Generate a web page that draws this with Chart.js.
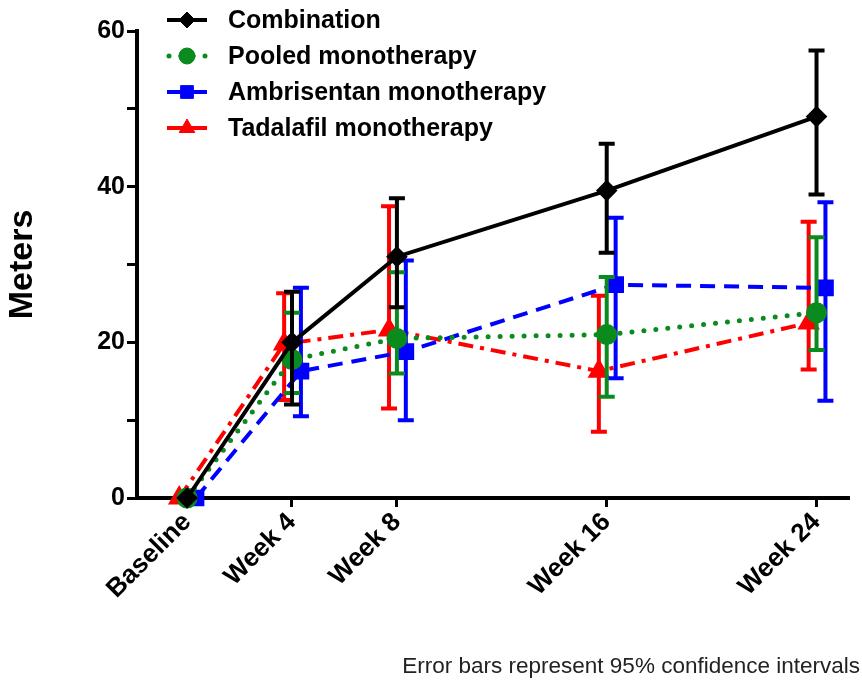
<!DOCTYPE html>
<html>
<head>
<meta charset="utf-8">
<script src="https://cdn.jsdelivr.net/npm/chart.js@4.4.1/dist/chart.umd.min.js"></script>
<style>
  html, body { margin: 0; padding: 0; background: #fff; }
</style>
</head>
<body>
<canvas id="walkChart" width="862" height="681"></canvas>
<script>
// ---- Data (change from baseline, meters) ----
const weeks      = [0, 4, 8, 16, 24];
const weekLabels = ['Baseline', 'Week 4', 'Week 8', 'Week 16', 'Week 24'];

const combination     = [0, 20, 31, 39.5, 49];
const combinationLow  = [0, 12, 24.5, 31.5, 39];
const combinationHigh = [0, 26.5, 38.5, 45.5, 57.5];

const pooled     = [0, 17.8, 20.5, 21, 23.8];
const pooledLow  = [0, 13.5, 16, 13, 19];
const pooledHigh = [0, 23.8, 29, 28.4, 33.5];

const ambrisentan     = [0, 16.3, 18.8, 27.4, 27];
const ambrisentanLow  = [0, 10.5, 10, 15.4, 12.5];
const ambrisentanHigh = [0, 27, 30.5, 36, 38];

const tadalafil     = [0, 19.8, 21.6, 16.3, 22.5];
const tadalafilLow  = [0, 12.6, 11.5, 8.5, 16.5];
const tadalafilHigh = [0, 26.3, 37.5, 26, 35.5];

const yTicks = [0, 20, 40, 60];

const FONT = "'Liberation Sans', Arial, Helvetica, sans-serif";

// points, nudged sideways a little so the error bars don't sit on top of each other
const pts = (vals, shift) => weeks.map((w, i) => ({ x: w + shift, y: vals[i] }));

// ---- Error bars: drawn just before each dataset so the symbols sit on top ----
const errorBars = {
  id: 'errorBars',
  beforeDatasetDraw(chart, args) {
    const ds = chart.data.datasets[args.index];
    if (!ds.errLow) return;
    const ctx = chart.ctx;
    const y = chart.scales.y;
    ctx.save();
    ctx.strokeStyle = ds.borderColor;
    ctx.lineWidth = 4;
    ctx.setLineDash([]);
    args.meta.data.forEach((pt, i) => {
      const lo = ds.errLow[i], hi = ds.errHigh[i];
      if (lo === hi) return;
      const yl = y.getPixelForValue(lo), yh = y.getPixelForValue(hi);
      ctx.beginPath();
      ctx.moveTo(pt.x, yl); ctx.lineTo(pt.x, yh);
      ctx.moveTo(pt.x - 8, yl); ctx.lineTo(pt.x + 8, yl);
      ctx.moveTo(pt.x - 8, yh); ctx.lineTo(pt.x + 8, yh);
      ctx.stroke();
    });
    ctx.restore();
  }
};

// ---- Legend (line sample + symbol) and footnote ----
const legendAndNote = {
  id: 'legendAndNote',
  afterDraw(chart) {
    const ctx = chart.ctx;
    ctx.save();
    const rows = [20, 56, 92, 128];
    chart.data.datasets.forEach((ds, i) => {
      const cy = rows[i];
      ctx.strokeStyle = ds.borderColor;
      ctx.lineWidth = ds.borderWidth;
      ctx.lineCap = ds.borderCapStyle || 'butt';
      ctx.setLineDash(ds.legendDash || []);
      ctx.beginPath();
      ctx.moveTo(ds.legendFrom || 167, cy);
      ctx.lineTo(207, cy);
      ctx.stroke();
      ctx.setLineDash([]);
      ctx.fillStyle = ds.pointBackgroundColor;
      ctx.strokeStyle = ds.pointBackgroundColor;
      ctx.lineWidth = 1;
      Chart.helpers.drawPoint(ctx, {
        pointStyle: ds.pointStyle, radius: ds.pointRadius, borderWidth: 1, rotation: 0
      }, 187, cy);
      ctx.fillStyle = '#000';
      ctx.font = `bold 25px ${FONT}`;
      ctx.textAlign = 'left';
      ctx.textBaseline = 'middle';
      ctx.fillText(ds.label, 228, cy + 1);
    });
    ctx.font = `22.5px ${FONT}`;
    ctx.fillStyle = '#222';
    ctx.textAlign = 'right';
    ctx.textBaseline = 'middle';
    ctx.fillText('Error bars represent 95% confidence intervals', 860, 667);
    ctx.restore();
  }
};

new Chart(document.getElementById('walkChart'), {
  type: 'line',
  data: {
    datasets: [
      {
        label: 'Combination', data: pts(combination, 0),
        errLow: combinationLow, errHigh: combinationHigh,
        borderColor: '#000', borderWidth: 4,
        pointStyle: 'rectRot', pointRadius: 8, pointBackgroundColor: '#000', pointBorderColor: '#000'
      },
      {
        label: 'Pooled monotherapy', data: pts(pooled, 0),
        errLow: pooledLow, errHigh: pooledHigh,
        borderColor: '#0b8a1e', borderWidth: 5, borderDash: [0, 12], borderCapStyle: 'round',
        legendDash: [0, 12], legendFrom: 169,
        pointStyle: 'circle', pointRadius: 8, pointBackgroundColor: '#0b8a1e', pointBorderColor: '#0b8a1e'
      },
      {
        label: 'Ambrisentan monotherapy', data: pts(ambrisentan, 0.34),
        errLow: ambrisentanLow, errHigh: ambrisentanHigh,
        borderColor: '#0000ff', borderWidth: 4, borderDash: [15, 9],
        pointStyle: 'rect', pointRadius: 9, pointBackgroundColor: '#0000ff', pointBorderColor: '#0000ff'
      },
      {
        label: 'Tadalafil monotherapy', data: pts(tadalafil, -0.3),
        errLow: tadalafilLow, errHigh: tadalafilHigh,
        borderColor: '#ff0000', borderWidth: 4, borderDash: [15, 7, 4, 7],
        pointStyle: 'triangle', pointRadius: 9, pointBackgroundColor: '#ff0000', pointBorderColor: '#ff0000'
      }
    ]
  },
  options: {
    responsive: false,
    animation: false,
    clip: false,
    elements: { line: { tension: 0, fill: false }, point: { borderWidth: 1 } },
    layout: { padding: { top: 31, right: 14, left: 0, bottom: 0 } },
    plugins: { legend: { display: false }, tooltip: { enabled: false } },
    scales: {
      x: {
        type: 'linear', min: -1.91, max: 25.2,
        afterBuildTicks: s => { s.ticks = weeks.map(v => ({ value: v })); },
        afterFit: s => { s.height = 183; },
        border: { color: '#000', width: 4 },
        grid: { drawOnChartArea: false, color: '#000', lineWidth: 3, tickLength: 9 },
        ticks: {
          color: '#000', font: { family: FONT, size: 26, weight: 'bold' },
          minRotation: 45, maxRotation: 45, padding: 0,
          callback: v => weekLabels[weeks.indexOf(v)]
        }
      },
      y: {
        min: 0, max: 60,
        afterFit: s => { s.width = 137; },
        border: { color: '#000', width: 4 },
        grid: { drawOnChartArea: false, color: '#000', lineWidth: 3, tickLength: 10 },
        ticks: {
          stepSize: 10, padding: 2, color: '#000',
          font: { family: FONT, size: 25, weight: 'bold' },
          callback: v => yTicks.includes(v) ? v : ''
        },
        title: {
          display: true, text: 'Meters', color: '#000',
          font: { family: FONT, size: 34, weight: 'bold' }, padding: { top: 2, bottom: 0 }
        }
      }
    }
  },
  plugins: [errorBars, legendAndNote]
});
</script>
</body>
</html>
